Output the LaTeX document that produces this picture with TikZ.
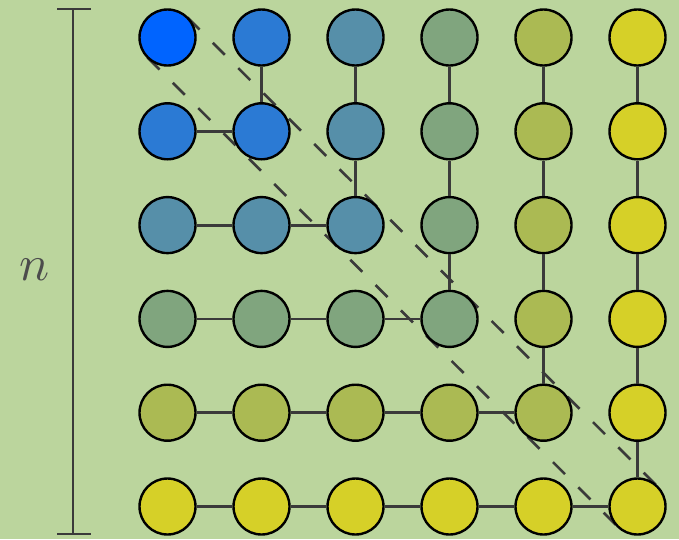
\documentclass[tikz,border=0pt]{standalone}
\usetikzlibrary{calc}
\definecolor{bgc}{RGB}{187,213,157}
\definecolor{cblue}{RGB}{0,100,255}
\definecolor{cyellow}{RGB}{214,208,40}
\definecolor{linec}{RGB}{58,58,58}
\begin{document}
\begin{tikzpicture}[x=1pt,y=-1pt,
  dot/.style={circle,draw=black,line width=2.4pt,minimum size=56pt,inner sep=0pt},
  edge/.style={draw=linec,line width=2.8pt},
  tangent/.style={draw=linec,line width=2.6pt,dash pattern=on 17pt off 18.8pt},
  bar/.style={draw=linec,line width=2.8pt},
  lbl/.style={scale=5,text=black!70}]
\fill[bgc] (0,0) rectangle (679,539);
\useasboundingbox (0,0) rectangle (679,539);
% tangent dashed lines
\coordinate (us) at (187.5,17.5);
\coordinate (ue) at (657.5,486.5);
\coordinate (ls) at (147.5,57.5);
\coordinate (le) at (617.5,526.5);
\draw[tangent] (us) -- (ue);
\draw[tangent] (ls) -- (le);
% nodes
\foreach \r in {0,...,5}{
  \foreach \c in {0,...,5}{
    \pgfmathtruncatemacro{\m}{max(\r,\c)*20}
    \node[dot,fill=cyellow!\m!cblue] (n\r\c) at ({167.5+94*\c},{37.5+93.8*\r}) {};
  }
}
% edges
\foreach \r in {1,...,5}{
  \foreach \c [evaluate=\c as \p using int(\c-1)] in {1,...,\r}{
    \draw[edge] (n\r\p) -- (n\r\c);
    \draw[edge] (n\p\r) -- (n\c\r);
  }
}
% scale bar
\coordinate (bt) at (73,9);
\coordinate (bb) at (73,534);
\coordinate (btl) at (57,9);
\coordinate (btr) at (91,9);
\coordinate (bbl) at (57,534);
\coordinate (bbr) at (91,534);
\draw[bar] (bt) -- (bb);
\draw[bar] (btl) -- (btr);
\draw[bar] (bbl) -- (bbr);
\node[lbl] (nlabel) at (35,270) {$n$};
\end{tikzpicture}
\end{document}
